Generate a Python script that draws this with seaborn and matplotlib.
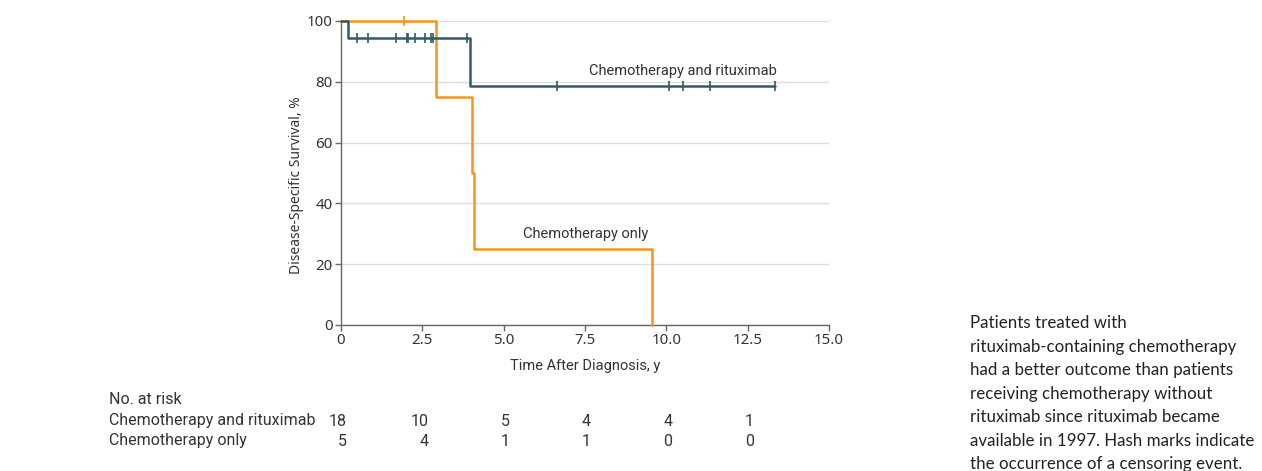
import numpy as np
import pandas as pd
import matplotlib
matplotlib.use("Agg")
import matplotlib.pyplot as plt
import matplotlib.transforms as mtransforms
import seaborn as sns

# Kaplan-Meier steps
rit_times = [0, 0.22, 3.95, 13.35]
rit_surv = [100, 94.4, 78.7, 78.7]
rit_censor = [0.50, 0.84, 1.68, 2.03, 2.07, 2.27, 2.58, 2.76, 2.82, 3.86,
              6.63, 10.08, 10.50, 11.35, 13.35]

chemo_times = [0, 2.92, 4.04, 4.10, 9.57]
chemo_surv = [100, 75, 50, 25, 0]
chemo_censor = [1.94]

risk_times = [0, 2.5, 5.0, 7.5, 10.0, 12.5]
risk_rit = [18, 10, 5, 4, 4, 1]
risk_chemo = [5, 4, 1, 1, 0, 0]

blue = "#2f5a6a"
orange = "#f7941d"
txt = "#333333"


def surv_at(times, surv, t):
    idx = np.searchsorted(times, t, side="right") - 1
    return surv[idx]


sns.set_theme(style="white")
plt.rcParams['font.family'] = ['Noto Sans', 'DejaVu Sans']
cond = ['Roboto', 'DejaVu Sans']

fig = plt.figure(figsize=(12.62, 4.71), dpi=100)
ax = fig.add_axes([341 / 1262, 1 - 325 / 471, 488 / 1262, 304 / 471])

df_r = pd.DataFrame({'t': rit_times, 's': rit_surv})
df_c = pd.DataFrame({'t': chemo_times, 's': chemo_surv})
sns.lineplot(data=df_r, x='t', y='s', ax=ax, color=blue, lw=1.8,
             drawstyle='steps-post', estimator=None, clip_on=False, zorder=4)
sns.lineplot(data=df_c, x='t', y='s', ax=ax, color=orange, lw=1.8,
             drawstyle='steps-post', estimator=None, clip_on=False, zorder=3)

cr = pd.DataFrame({'t': rit_censor,
                   's': [surv_at(rit_times, rit_surv, t) for t in rit_censor]})
cc = pd.DataFrame({'t': chemo_censor,
                   's': [surv_at(chemo_times, chemo_surv, t) for t in chemo_censor]})
sns.scatterplot(data=cr, x='t', y='s', ax=ax, marker='|', s=45, color=blue,
                linewidth=1.2, clip_on=False, zorder=5)
sns.scatterplot(data=cc, x='t', y='s', ax=ax, marker='|', s=45, color=orange,
                linewidth=1.2, clip_on=False, zorder=5)

ax.set_xlim(0, 15)
ax.set_ylim(0, 100)
ax.set_xticks([0, 2.5, 5, 7.5, 10, 12.5, 15])
ax.set_xticklabels(['0', '2.5', '5.0', '7.5', '10.0', '12.5', '15.0'])
ax.set_yticks([0, 20, 40, 60, 80, 100])
ax.yaxis.grid(True, color='#dddddd', lw=1)
ax.set_axisbelow(True)
for s in ['top', 'right']:
    ax.spines[s].set_visible(False)
for s in ['left', 'bottom']:
    ax.spines[s].set_color('#666666')
    ax.spines[s].set_linewidth(1)
ax.tick_params(axis='both', length=4, width=1, color='#666666',
               labelsize=10.8, labelcolor=txt, pad=2, bottom=True, left=True)
ax.set_xlabel('Time After Diagnosis, y', fontsize=10.5, color=txt,
              family=cond, labelpad=8)
ax.set_ylabel('Disease-Specific Survival, %', fontsize=10, color=txt)
ax.yaxis.set_label_coords(-0.076, 0.46)

ax.text(10.51, 83.5, 'Chemotherapy and rituximab', ha='center', va='center',
        fontsize=10.5, color=txt, family=cond)
ax.text(7.53, 29.9, 'Chemotherapy only', ha='center', va='center',
        fontsize=10.5, color=txt, family=cond)

# number at risk table
tfs = 11.5
trans = mtransforms.blended_transform_factory(ax.transData, fig.transFigure)
trans = trans + mtransforms.ScaledTranslation(6 / 100, 0, fig.dpi_scale_trans)
fig.text(109 / 1262, 1 - 399 / 471, 'No. at risk', fontsize=tfs, color=txt,
         family=cond, va='center')
fig.text(109 / 1262, 1 - 421 / 471, 'Chemotherapy and rituximab', fontsize=tfs,
         color=txt, family=cond, va='center')
fig.text(109 / 1262, 1 - 441 / 471, 'Chemotherapy only', fontsize=tfs,
         color=txt, family=cond, va='center')
for t, a, b in zip(risk_times, risk_rit, risk_chemo):
    ax.text(t, 1 - 421 / 471, str(a), transform=trans, ha='right',
            va='center', fontsize=tfs, color=txt, family=cond)
    ax.text(t, 1 - 441 / 471, str(b), transform=trans, ha='right',
            va='center', fontsize=tfs, color=txt, family=cond)

caption = ("Patients treated with\n"
           "rituximab-containing chemotherapy\n"
           "had a better outcome than patients\n"
           "receiving chemotherapy without\n"
           "rituximab since rituximab became\n"
           "available in 1997. Hash marks indicate\n"
           "the occurrence of a censoring event.")
fig.text(970 / 1262, 1 - 315 / 471, caption, fontsize=12.2, color='#222222',
         family=['Lato', 'DejaVu Sans'], va='top', ha='left', linespacing=1.58)

fig.savefig('out.png', dpi=100)
